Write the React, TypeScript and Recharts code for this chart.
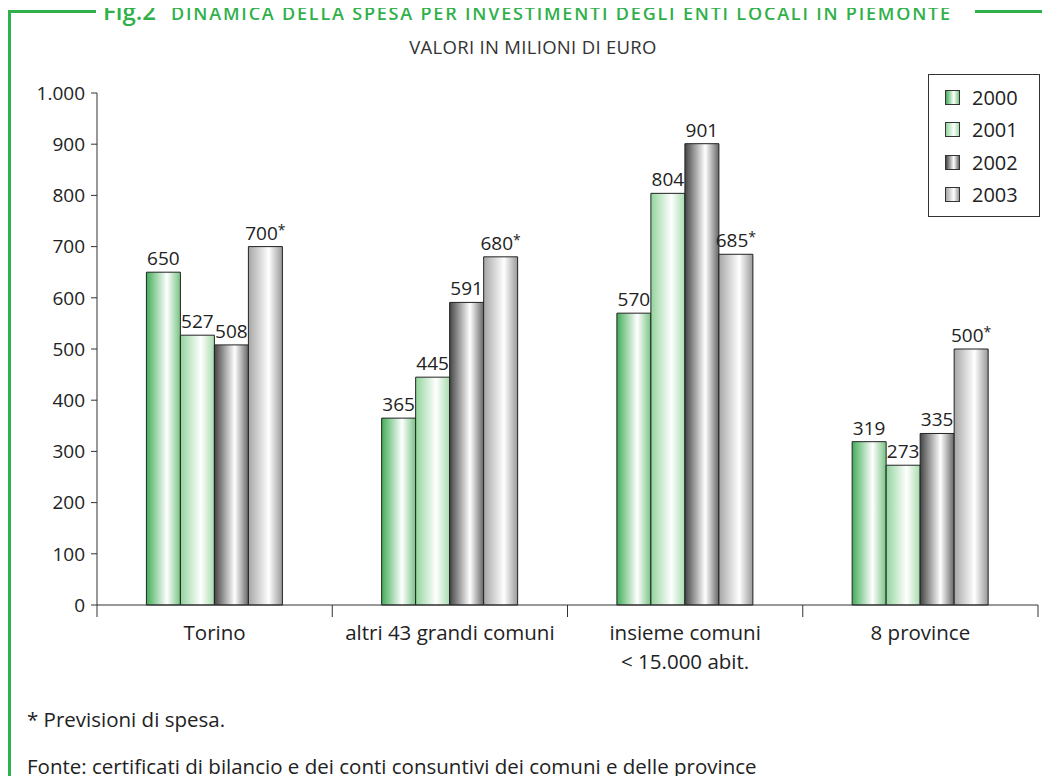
import React from 'react';
import { BarChart, Bar, XAxis, YAxis, Legend, LabelList } from 'recharts';

const categories = ['Torino', 'altri 43 grandi comuni', 'insieme comuni\n< 15.000 abit.', '8 province'];
const years = ['2000', '2001', '2002', '2003'];
const values2000 = [650, 365, 570, 319];
const values2001 = [527, 445, 804, 273];
const values2002 = [508, 591, 901, 335];
const values2003 = [700, 680, 685, 500];
const forecastYears = ['2003'];
const yTicks = [0, 100, 200, 300, 400, 500, 600, 700, 800, 900, 1000];

const data = categories.map((name, i) => ({
  name,
  '2000': values2000[i],
  '2001': values2001[i],
  '2002': values2002[i],
  '2003': values2003[i],
}));

const FONT = '"Open Sans", sans-serif';
const GREEN = '#2fb04a';

// left edge, highlight, right edge for each series
const gradients: { [k: string]: [string, string, string] } = {
  '2000': ['#42ad58', '#ffffff', '#78c384'],
  '2001': ['#92d49c', '#ffffff', '#a6dcad'],
  '2002': ['#444444', '#ffffff', '#666666'],
  '2003': ['#a6a6a6', '#ffffff', '#999999'],
};

const formatThousands = (v: number) =>
  v >= 1000 ? `${Math.floor(v / 1000)}.${String(v % 1000).padStart(3, '0')}` : String(v);

const makeValueLabel = (forecast: boolean) => (props: any) => {
  const { x, y, width, value } = props;
  return (
    <text x={x + width / 2} y={y - 7} textAnchor="middle" fill="#222" fontSize={19} fontFamily={FONT}>
      {value}
      {forecast && <tspan dy={-5} fontSize={14}>*</tspan>}
    </text>
  );
};

const CategoryTick = (props: any) => {
  const { x, y, payload, index, visibleTicksCount } = props;
  const half = payload.offset || 0;
  const lines = String(payload.value).split('\n');
  const isLast = index === (visibleTicksCount ?? categories.length) - 1;
  return (
    <g>
      <line x1={x - half} x2={x - half} y1={y} y2={y + 12} stroke="#333" />
      {isLast && <line x1={x + half} x2={x + half} y1={y} y2={y + 12} stroke="#333" />}
      <text x={x} y={y} textAnchor="middle" fill="#222" fontSize={20.5} fontFamily={FONT}>
        {lines.map((l, i) => (
          <tspan key={i} x={x} dy={i === 0 ? 35 : 29}>{l}</tspan>
        ))}
      </text>
    </g>
  );
};

const LegendBox = () => (
  <div style={{ border: '1px solid #333', width: 112, height: 143, boxSizing: 'border-box', padding: '6px 0 0 16px', background: '#fff' }}>
    {years.map((y) => {
      const [a, b, c] = gradients[y];
      return (
        <div key={y} style={{ display: 'flex', alignItems: 'center', height: 32.5 }}>
          <span style={{ display: 'inline-block', width: 13, height: 13, border: '1px solid #333', background: `linear-gradient(to right, ${a} 0%, ${b} 60%, ${c} 100%)`, marginRight: 12 }} />
          <span style={{ fontSize: 20, color: '#222', fontFamily: FONT }}>{y}</span>
        </div>
      );
    })}
  </div>
);

export default function App() {
  return (
    <div style={{ position: 'relative', width: 1050, height: 784, margin: -8, background: '#fff', overflow: 'hidden', fontFamily: FONT }}>
      {/* frame + title */}
      <svg width={1050} height={30} style={{ position: 'absolute', left: 0, top: 0 }}>
        <rect x={8} y={10} width={88} height={3} fill={GREEN} />
        <rect x={975} y={10} width={75} height={3} fill={GREEN} />
        <text x={103} y={20} fill={GREEN} fontFamily={FONT} fontWeight={600}>
          <tspan fontSize={24}>Fig.2</tspan>
          <tspan fontSize={18} dx={15} letterSpacing={1.8}>DINAMICA DELLA SPESA PER INVESTIMENTI DEGLI ENTI LOCALI IN PIEMONTE</tspan>
        </text>
      </svg>
      <div style={{ position: 'absolute', left: 8, top: 10, width: 3, height: 790, background: GREEN }} />
      <div style={{ position: 'absolute', left: 0, width: 1066, top: 34, textAlign: 'center', fontSize: 18.5, color: '#333', letterSpacing: 0.3 }}>
        VALORI IN MILIONI DI EURO
      </div>

      <div style={{ position: 'absolute', left: 0, top: 0 }}>
        <BarChart
          width={1050}
          height={784}
          data={data}
          margin={{ top: 93, right: 12, left: 37, bottom: 119 }}
          barCategoryGap="21%"
          barGap={0}
        >
          <defs>
            {years.map((y) => (
              <linearGradient key={y} id={`grad${y}`} x1="0" y1="0" x2="1" y2="0">
                <stop offset="0%" stopColor={gradients[y][0]} />
                <stop offset="60%" stopColor={gradients[y][1]} />
                <stop offset="100%" stopColor={gradients[y][2]} />
              </linearGradient>
            ))}
          </defs>
          <XAxis
            dataKey="name"
            height={60}
            axisLine={{ stroke: '#333' }}
            tickLine={false}
            tickSize={0}
            tickMargin={0}
            interval={0}
            tick={<CategoryTick />}
          />
          <YAxis
            width={60}
            domain={[0, 1000]}
            ticks={yTicks}
            interval={0}
            tickFormatter={formatThousands}
            axisLine={{ stroke: '#333' }}
            tickLine={{ stroke: '#333' }}
            tickSize={6}
            tickMargin={6}
            tick={{ fill: '#222', fontSize: 19, fontFamily: FONT }}
          />
          <Legend
            layout="vertical"
            align="center"
            verticalAlign="middle"
            content={<LegendBox />}
            wrapperStyle={{ left: 928, top: 74, width: 112 }}
          />
          {years.map((y) => (
            <Bar key={y} dataKey={y} fill={`url(#grad${y})`} stroke="#222" strokeWidth={1} isAnimationActive={false}>
              <LabelList dataKey={y} content={makeValueLabel(forecastYears.includes(y))} />
            </Bar>
          ))}
        </BarChart>
      </div>

      <div style={{ position: 'absolute', left: 27, top: 705, fontSize: 20.5, color: '#222' }}>* Previsioni di spesa.</div>
      <div style={{ position: 'absolute', left: 27, top: 752, fontSize: 20.5, color: '#222' }}>
        Fonte: certificati di bilancio e dei conti consuntivi dei comuni e delle province
      </div>
    </div>
  );
}
